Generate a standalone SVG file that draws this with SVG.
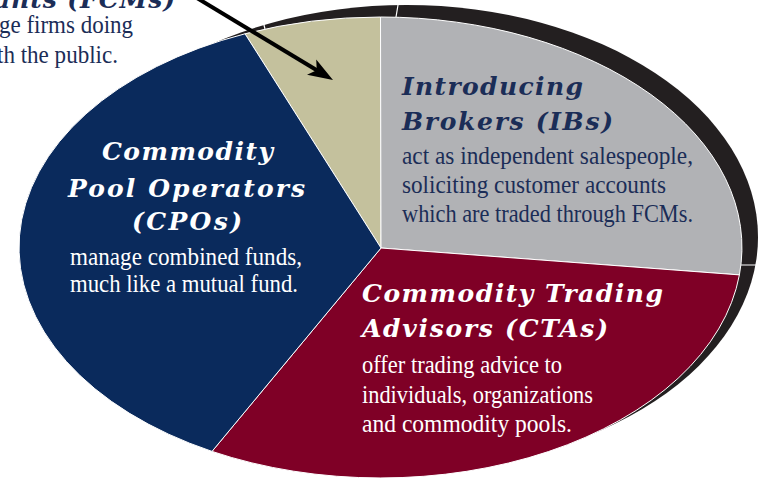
<svg xmlns="http://www.w3.org/2000/svg" width="761" height="481" viewBox="0 0 761 481">
<defs>
<style>
.sl{stroke:#ffffff;stroke-width:1;stroke-linejoin:round}
.hd{font-family:"DejaVu Serif","Liberation Serif",serif;font-weight:bold;font-style:italic;font-size:25px}
.bd{font-family:"Liberation Serif","Times New Roman",serif;font-size:26px}
.nv{fill:#1b2d57}
.wh{fill:#ffffff}
.sep{stroke:#ffffff;stroke-width:1.2;fill:none}
</style>
<marker id="ah" markerUnits="userSpaceOnUse" markerWidth="26" markerHeight="20" viewBox="0 0 26 20" refX="11" refY="10" orient="auto">
<path d="M0,1 L25,10 L0,19 L6,10 Z" fill="#000000"/>
</marker>
</defs>
<rect width="761" height="481" fill="#ffffff"/>
<g id="rim">
<ellipse cx="406.6" cy="237" rx="351.4" ry="232" fill="#231f20"/>
<path class="sep" d="M263,21 L265,29 M398,5 L396,17 M741,265 L758,265"/>
</g>
<g id="fcm">
<path class="sl" d="M381,248 L245,33.8 A361.5,230.5 0 0,1 380.5,17 Z" fill="#c4c19d"/>
<text class="hd nv" x="-6" y="8" textLength="181" lengthAdjust="spacing">ants (FCMs)</text>
<text class="bd nv" x="-1" y="33" textLength="134" lengthAdjust="spacingAndGlyphs">ge firms doing</text>
<text class="bd nv" x="-3" y="63" textLength="121" lengthAdjust="spacingAndGlyphs">th the public.</text>
</g>
<g id="ib">
<path class="sl" d="M381,248 L380.5,17 A361.5,230.5 0 0,1 739.4,274.9 Z" fill="#b1b2b5"/>
<text class="hd nv" x="402" y="95" textLength="181" lengthAdjust="spacing">Introducing</text>
<text class="hd nv" x="402" y="130" textLength="211" lengthAdjust="spacing">Brokers (IBs)</text>
<text class="bd nv" x="402" y="164" textLength="291" lengthAdjust="spacingAndGlyphs">act as independent salespeople,</text>
<text class="bd nv" x="402" y="193" textLength="264" lengthAdjust="spacingAndGlyphs">soliciting customer accounts</text>
<text class="bd nv" x="402" y="222" textLength="291" lengthAdjust="spacingAndGlyphs">which are traded through FCMs.</text>
</g>
<g id="cta">
<path class="sl" d="M381,248 L739.4,274.9 A361.5,230.5 0 0,1 212,451.4 Z" fill="#7f0026"/>
<text class="hd wh" x="362" y="302" textLength="301" lengthAdjust="spacing">Commodity Trading</text>
<text class="hd wh" x="362" y="337" textLength="246" lengthAdjust="spacing">Advisors (CTAs)</text>
<text class="bd wh" x="362" y="373" textLength="200" lengthAdjust="spacingAndGlyphs">offer trading advice to</text>
<text class="bd wh" x="362" y="403" textLength="231" lengthAdjust="spacingAndGlyphs">individuals, organizations</text>
<text class="bd wh" x="362" y="432" textLength="210" lengthAdjust="spacingAndGlyphs">and commodity pools.</text>
</g>
<g id="cpo">
<path class="sl" d="M381,248 L212,451.4 A361.5,230.5 0 0,1 245,33.8 Z" fill="#0a2a5c"/>
<text class="hd wh" x="102" y="160" textLength="171" lengthAdjust="spacing">Commodity</text>
<text class="hd wh" x="68" y="197" textLength="237" lengthAdjust="spacing">Pool Operators</text>
<text class="hd wh" x="132" y="230" textLength="110" lengthAdjust="spacing">(CPOs)</text>
<text class="bd wh" x="70" y="265" textLength="232" lengthAdjust="spacingAndGlyphs">manage combined funds,</text>
<text class="bd wh" x="70" y="292" textLength="228" lengthAdjust="spacingAndGlyphs">much like a mutual fund.</text>
</g>
<g id="connectors">
<line x1="187.5" y1="-7.7" x2="321" y2="72.8" stroke="#000000" stroke-width="4" marker-end="url(#ah)"/>
</g>
</svg>
